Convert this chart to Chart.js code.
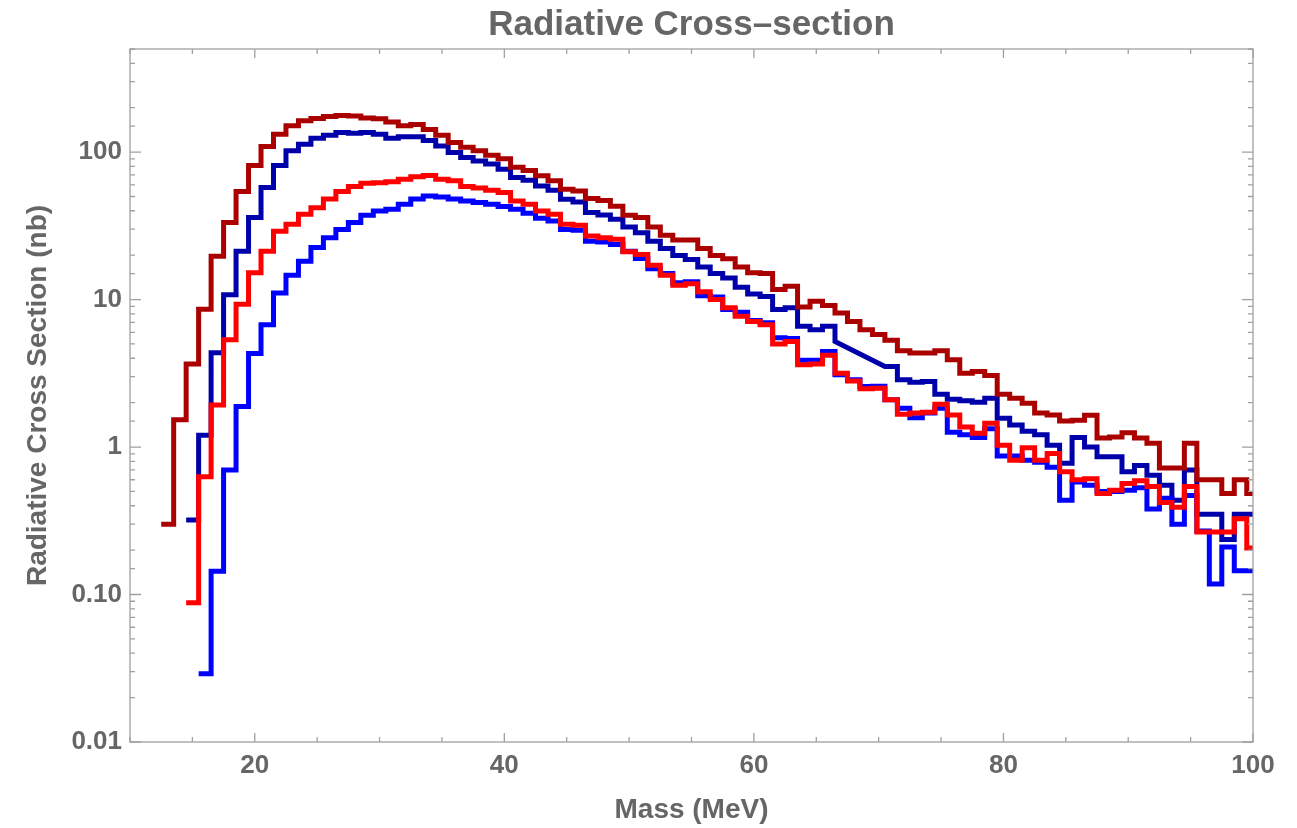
<!DOCTYPE html>
<html>
<head>
<meta charset="utf-8">
<script src="https://cdn.jsdelivr.net/npm/chart.js@4.4.1/dist/chart.umd.min.js"></script>
<style>
  html, body { margin: 0; padding: 0; background: #fff; }
  #wrap { width: 1297px; height: 828px; }
</style>
</head>
<body>
<div id="wrap"><canvas id="chart" width="1297" height="828"></canvas></div>
<script>
// bin centres (MeV), 1 MeV wide bins
var masses = [13, 14, 15, 16, 17, 18, 19, 20, 21, 22, 23, 24, 25, 26, 27, 28, 29, 30,
  31, 32, 33, 34, 35, 36, 37, 38, 39, 40, 41, 42, 43, 44, 45, 46, 47, 48, 49, 50,
  51, 52, 53, 54, 55, 56, 57, 58, 59, 60, 61, 62, 63, 64, 65, 66, 67, 68, 69, 70,
  71, 72, 73, 74, 75, 76, 77, 78, 79, 80, 81, 82, 83, 84, 85, 86, 87, 88, 89, 90,
  91, 92, 93, 94, 95, 96, 97, 98, 99, 100];

var darkRedVals = [0.30, 1.53, 3.65, 8.6, 19.7, 33.3, 54, 81, 109, 132, 151, 163, 169, 174, 177, 176, 170, 168,
  160, 151, 154, 142, 130, 116, 108, 102, 95, 90, 79, 75, 69, 64, 56, 54.5, 48.4, 47, 43, 37.3,
  36, 31, 27.3, 25.3, 25.3, 22.2, 19.9, 18.9, 16.6, 15.2, 15, 11.7, 12.3, 8.9, 9.75, 9.1, 8.1, 7.1, 6.25, 5.8,
  5.3, 4.5, 4.35, 4.35, 4.5, 3.9, 3.17, 3.25, 3.06, 2.28, 2.14, 1.98, 1.7, 1.65, 1.5, 1.52, 1.64, 1.15, 1.17, 1.25,
  1.15, 1.06, 0.72, 0.72, 1.06, 0.6, 0.6, 0.485, 0.6, 0.485];

var darkBlueVals = [null, null, 0.32, 1.2, 4.36, 10.8, 21.3, 36, 57.5, 81, 102, 113, 124, 130, 136, 134, 136, 132,
  124, 127, 127, 120, 110, 99.5, 92, 87, 83, 76.6, 67.3, 64.5, 59, 55, 47.9, 45.9, 38.9, 37.5, 35, 31,
  28.4, 24.9, 22.2, 19.9, 18.7, 16.6, 15, 14, 12.1, 10.9, 10.5, 8.55, 8.8, 6.6, 6.25, 6.6, 5.2, null, null, null,
  3.52, 2.86, 2.75, 2.78, 2.28, 2.11, 2.06, 2.01, 2.14, 1.57, 1.41, 1.28, 1.21, 1.03, 0.775, 1.16, 1.0, 0.86, 0.86, 0.68,
  0.75, 0.645, 0.55, 0.435, 0.7, 0.35, 0.35, 0.236, 0.35, 0.35];

var redVals = [null, null, 0.088, 0.63, 1.93, 5.34, 9.3, 15.2, 21.3, 29.1, 32.4, 37.9, 42, 48, 54, 58.4, 61.5, 62,
  63, 65.5, 68, 69.5, 65.5, 63.8, 58.4, 57, 55, 53.2, 46.6, 44.3, 39.9, 37.9, 32.4, 31.9, 27, 26.3, 25.6, 21.1,
  20.2, 17.1, 14.6, 12.5, 12.8, 11.3, 10, 8.8, 7.7, 7.1, 6.76, 5.0, 5.2, 3.61, 3.65, 4.2, 3.17, 2.8, 2.48, 2.5,
  2.09, 1.67, 1.7, 1.72, 1.95, 1.65, 1.37, 1.24, 1.45, 1.03, 0.815, 0.99, 0.815, 0.905, 0.68, 0.6, 0.61, 0.485, 0.51, 0.566,
  0.59, 0.54, 0.42, 0.39, 0.54, 0.265, 0.265, 0.265, 0.327, 0.207];

var blueVals = [null, null, null, 0.029, 0.144, 0.70, 1.88, 4.3, 6.76, 11.1, 14.6, 18.2, 22.5, 26.3, 29.9, 33.3, 37.3, 39.8,
  41, 44.3, 48, 50.4, 49.5, 48, 46.6, 45.5, 44.3, 42.7, 41, 38.5, 35.6, 34.1, 29.9, 29.5, 24.9, 24.6, 23.6, 21.3,
  19, 16.2, 15, 13, 13.2, 10.6, 10.4, 8.55, 8.2, 7.2, 6.95, 5.5, 5.45, 3.87, 3.87, 4.45, 3.09, 2.86, 2.57, 2.58,
  2.09, 1.83, 1.58, 1.7, 1.83, 1.26, 1.21, 1.16, 1.33, 0.87, 0.87, 0.815, 0.79, 0.73, 0.435, 0.58, 0.55, 0.5, 0.5, 0.51,
  0.53, 0.38, 0.45, 0.30, 0.47, 0.27, 0.118, 0.21, 0.145, 0.145];

var yTickLabels = { '0.01': '0.01', '0.1': '0.10', '1': '1', '10': '10', '100': '100' };
var xTickLabels = [20, 40, 60, 80, 100];

var textGray = '#666666';
var frameGray = '#a0a0a0';

// turn bin values into histogram outline points
function steps(vals) {
  var pts = [];
  vals.forEach(function(v, i) {
    if (v === null) return;
    var m = masses[i];
    pts.push({ x: m - 0.5, y: v });
    if (vals[i + 1] !== null) pts.push({ x: Math.min(m + 0.5, 100), y: v });
  });
  return pts;
}

function isDecade(v) {
  var l = Math.log10(v);
  return Math.abs(l - Math.round(l)) < 1e-6;
}

// Mathematica style frame with inward ticks on all four sides
var frameTicks = {
  id: 'frameTicks',
  afterDatasetsDraw: function(chart) {
    var ctx = chart.ctx, a = chart.chartArea;
    var xs = chart.scales.x, ys = chart.scales.y;
    ctx.save();
    ctx.strokeStyle = frameGray;
    ctx.lineWidth = 1.3;
    ctx.strokeRect(a.left, a.top, a.right - a.left, a.bottom - a.top);
    ctx.beginPath();
    xs.ticks.forEach(function(t) {
      var px = xs.getPixelForValue(t.value);
      var len = t.value % 20 === 0 ? 9 : 5;
      ctx.moveTo(px, a.bottom); ctx.lineTo(px, a.bottom - len);
      ctx.moveTo(px, a.top); ctx.lineTo(px, a.top + len);
    });
    ys.ticks.forEach(function(t) {
      var py = ys.getPixelForValue(t.value);
      var len = isDecade(t.value) ? 11 : 5;
      ctx.moveTo(a.left, py); ctx.lineTo(a.left + len, py);
      ctx.moveTo(a.right, py); ctx.lineTo(a.right - len, py);
    });
    ctx.stroke();
    ctx.restore();
  }
};

function line(label, vals, color) {
  return {
    label: label,
    data: steps(vals),
    borderColor: color,
    backgroundColor: color,
    borderWidth: 5,
    borderJoinStyle: 'miter',
    borderCapStyle: 'butt',
    pointRadius: 0,
    fill: false,
    tension: 0
  };
}

var ctx = document.getElementById('chart').getContext('2d');
var myChart = new Chart(ctx, {
  type: 'line',
  data: {
    datasets: [
      line('red', redVals, '#ff0000'),
      line('blue', blueVals, '#0000ff'),
      line('dark red', darkRedVals, '#aa0000'),
      line('dark blue', darkBlueVals, '#0000aa')
    ]
  },
  options: {
    responsive: false,
    animation: false,
    layout: { padding: { left: 0, right: 44, top: 0, bottom: 0 } },
    plugins: {
      legend: { display: false },
      tooltip: { enabled: false },
      title: {
        display: true,
        fullSize: false,
        text: 'Radiative Cross–section',
        color: textGray,
        font: { family: 'Liberation Sans, Arial, sans-serif', size: 35, weight: 'bold', lineHeight: 1.2 },
        padding: { top: 4.5, bottom: 2.5 }
      }
    },
    scales: {
      x: {
        type: 'linear',
        min: 10,
        max: 100,
        grid: { display: false, drawTicks: false },
        border: { display: false },
        afterFit: function(s) { s.height = 86; },
        ticks: {
          stepSize: 5,
          autoSkip: false,
          maxRotation: 0,
          padding: 8,
          color: textGray,
          font: { family: 'Liberation Sans, Arial, sans-serif', size: 26, weight: 'bold' },
          callback: function(v) { return xTickLabels.indexOf(v) >= 0 ? String(v) : ''; }
        },
        title: {
          display: true,
          text: 'Mass (MeV)',
          color: textGray,
          font: { family: 'Liberation Sans, Arial, sans-serif', size: 28, weight: 'bold', lineHeight: 1.2 },
          padding: { top: 0, bottom: 1.2 }
        }
      },
      y: {
        type: 'logarithmic',
        min: 0.01,
        max: 500,
        grid: { display: false, drawTicks: false },
        border: { display: false },
        afterFit: function(s) { s.width = 130; },
        ticks: {
          autoSkip: false,
          padding: 8,
          color: textGray,
          font: { family: 'Liberation Sans, Arial, sans-serif', size: 26, weight: 'bold' },
          callback: function(v) {
            if (!isDecade(v)) return '';
            var key = String(Math.pow(10, Math.round(Math.log10(v))));
            return yTickLabels[key] || '';
          }
        },
        title: {
          display: true,
          text: 'Radiative Cross Section (nb)',
          color: textGray,
          font: { family: 'Liberation Sans, Arial, sans-serif', size: 28, weight: 'bold', lineHeight: 1.2 },
          padding: { top: 21.2, bottom: 0 }
        }
      }
    }
  },
  plugins: [frameTicks]
});
</script>
</body>
</html>
